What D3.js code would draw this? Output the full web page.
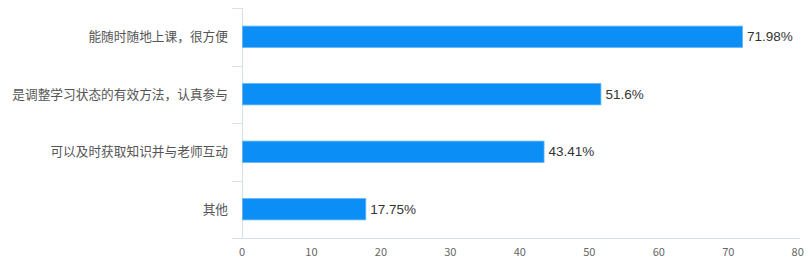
<!DOCTYPE html>
<html><head><meta charset="utf-8">
<script src="https://cdn.jsdelivr.net/npm/d3@7"></script>
<style>body{margin:0;background:#fff}</style>
</head><body><svg id="c" width="811" height="275"></svg>
<script>
const categories = ["能随时随地上课，很方便","是调整学习状态的有效方法，认真参与","可以及时获取知识并与老师互动","其他"];
const values = [71.98, 51.6, 43.41, 17.75];
const valueLabels = ["71.98%","51.6%","43.41%","17.75%"];
const xTicks = [0,10,20,30,40,50,60,70,80];

(function(){
const svg = d3.select("#c");
const mLeft = 242, mRight = 797.7, mTop = 8, mBottom = 238;
const x = d3.scaleLinear().domain([0,80]).range([mLeft,mRight]);
const y = d3.scaleBand().domain(categories).range([mTop,mBottom]).paddingInner(0.63).paddingOuter(0.315);
const yb = d3.scaleBand().domain(categories).range([mTop,mBottom]);
const axisColor = "#d5e0ec";
const font = "'Noto Sans CJK SC','Microsoft YaHei',sans-serif";

svg.append("line").attr("x1",mLeft+0.5).attr("x2",mLeft+0.5).attr("y1",mTop).attr("y2",mBottom).attr("stroke",axisColor);
const divs = categories.map(c=>yb(c)).concat([mBottom]);
svg.selectAll("line.div").data(divs).join("line").attr("class","div")
  .attr("x1",232).attr("x2",mLeft).attr("y1",d=>Math.round(d)+0.5).attr("y2",d=>Math.round(d)+0.5).attr("stroke",axisColor);
svg.append("line").attr("x1",232).attr("x2",800).attr("y1",mBottom+0.5).attr("y2",mBottom+0.5).attr("stroke",axisColor);

svg.selectAll("text.xt").data(xTicks).join("text").attr("class","xt")
  .attr("x",d=>x(d)).attr("y",256).attr("text-anchor","middle")
  .attr("font-family",font).attr("font-size",11).attr("fill","#666").text(d=>d);

svg.selectAll("rect.bar").data(values).join("rect").attr("class","bar")
  .attr("x",mLeft+0.5).attr("y",(d,i)=>y(categories[i]))
  .attr("width",d=>x(d)-mLeft).attr("height",y.bandwidth())
  .attr("fill","#0b8ef5").attr("stroke","#5fb4f7").attr("stroke-width",0.8);

svg.selectAll("text.cat").data(categories).join("text").attr("class","cat")
  .attr("x",228).attr("y",d=>yb(d)+yb.bandwidth()/2).attr("dy","0.35em")
  .attr("text-anchor","end").attr("font-family",font).attr("font-size",12.7).attr("fill","#555").text(d=>d);

svg.selectAll("text.val").data(values).join("text").attr("class","val")
  .attr("x",d=>x(d)+5).attr("y",(d,i)=>y(categories[i])+y.bandwidth()/2).attr("dy","0.35em")
  .attr("font-family","'Liberation Sans',Arial,sans-serif").attr("font-size",13.5).attr("fill","#333")
  .text((d,i)=>valueLabels[i]);
})();
</script></body></html>
